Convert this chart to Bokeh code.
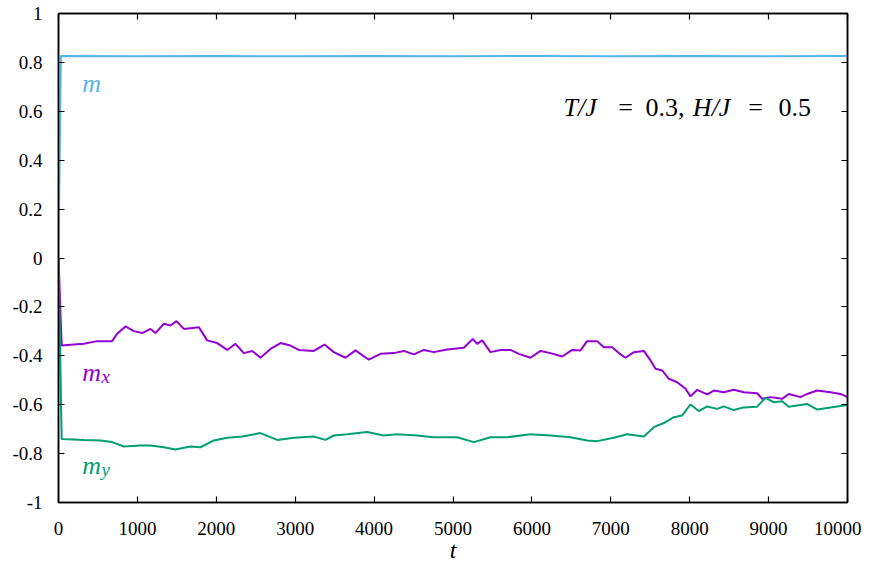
from bokeh.plotting import figure
from bokeh.models import Range1d, FixedTicker, LinearAxis
from bokeh.core.properties import value
from bokeh.embed import file_html
from bokeh.resources import INLINE

# ---- data ----
t_m = [0, 30, 1000, 2000, 3000, 4000, 5000, 6000, 7000, 8000, 9000, 10000]
m = [0.0, 0.826, 0.825, 0.826, 0.825, 0.826, 0.825, 0.826, 0.825, 0.826, 0.825, 0.826]

t_mx = [0, 40, 152, 321, 490, 680, 743, 849, 955, 1060, 1166, 1230, 1335, 1420, 1496,
        1589, 1779, 1884, 2011, 2138, 2243, 2349, 2455, 2560, 2687, 2814, 2940, 3046,
        3236, 3371, 3490, 3637, 3764, 3933, 4081, 4250, 4377, 4503, 4630, 4757, 4926,
        5137, 5251, 5306, 5370, 5475, 5602, 5729, 5834, 5982, 6109, 6236, 6384, 6511,
        6616, 6700, 6827, 6912, 7018, 7102, 7186, 7292, 7419, 7503, 7567, 7651, 7736,
        7841, 7947, 8010, 8095, 8222, 8306, 8432, 8559, 8686, 8855, 8919, 9024, 9172,
        9256, 9404, 9489, 9616, 9784, 9911, 10000]
mx = [0.0, -0.358, -0.355, -0.351, -0.340, -0.340, -0.310, -0.280, -0.299, -0.307, -0.290,
      -0.307, -0.269, -0.276, -0.258, -0.290, -0.283, -0.337, -0.348, -0.376, -0.351,
      -0.389, -0.380, -0.408, -0.372, -0.348, -0.358, -0.376, -0.380, -0.354, -0.385,
      -0.408, -0.378, -0.416, -0.392, -0.389, -0.380, -0.394, -0.376, -0.385, -0.374,
      -0.367, -0.331, -0.351, -0.337, -0.385, -0.376, -0.376, -0.392, -0.408, -0.380,
      -0.389, -0.403, -0.376, -0.378, -0.340, -0.340, -0.365, -0.365, -0.389, -0.408,
      -0.385, -0.380, -0.419, -0.453, -0.460, -0.494, -0.508, -0.535, -0.566, -0.539,
      -0.558, -0.542, -0.549, -0.539, -0.549, -0.553, -0.576, -0.569, -0.576, -0.556,
      -0.569, -0.556, -0.542, -0.549, -0.556, -0.569]

t_my = [0, 40, 321, 532, 680, 828, 1039, 1166, 1335, 1483, 1673, 1800, 1969, 2138, 2328,
        2560, 2772, 2983, 3236, 3384, 3490, 3659, 3912, 4123, 4293, 4546, 4757, 4926,
        5053, 5264, 5475, 5687, 5982, 6236, 6489, 6700, 6827, 7039, 7207, 7419, 7546,
        7672, 7799, 7905, 8010, 8115, 8222, 8348, 8432, 8559, 8686, 8855, 8960, 9066,
        9172, 9256, 9404, 9489, 9616, 9784, 10000]
my = [0.0, -0.740, -0.744, -0.746, -0.753, -0.771, -0.767, -0.767, -0.774, -0.783, -0.771,
      -0.774, -0.746, -0.735, -0.730, -0.716, -0.744, -0.735, -0.730, -0.744, -0.726,
      -0.721, -0.712, -0.726, -0.721, -0.726, -0.733, -0.733, -0.733, -0.753, -0.733,
      -0.733, -0.721, -0.726, -0.733, -0.746, -0.749, -0.735, -0.721, -0.730, -0.692,
      -0.675, -0.651, -0.644, -0.599, -0.626, -0.607, -0.617, -0.607, -0.622, -0.611,
      -0.608, -0.572, -0.590, -0.586, -0.608, -0.601, -0.597, -0.620, -0.611, -0.601]

x_ticks = [0, 1000, 2000, 3000, 4000, 5000, 6000, 7000, 8000, 9000, 10000]
y_ticks = [-1, -0.8, -0.6, -0.4, -0.2, 0, 0.2, 0.4, 0.6, 0.8, 1]
y_tick_labels = ["-1", "-0.8", "-0.6", "-0.4", "-0.2", "0", "0.2", "0.4", "0.6", "0.8", "1"]

C_M = "#56B4E9"
C_MX = "#9400D3"
C_MY = "#009E73"
FONT = "Liberation Serif"

p = figure(width=861, height=565, output_backend="svg", toolbar_location=None,
           x_range=Range1d(0, 10000), y_range=Range1d(-1, 1),
           min_border_left=58, min_border_right=14, min_border_top=13, min_border_bottom=63)
p.grid.visible = False
p.background_fill_color = "white"
p.border_fill_color = "white"
p.outline_line_color = "black"
p.outline_line_width = 1.5

for ax in (p.xaxis[0], p.yaxis[0]):
    ax.major_tick_in = 6
    ax.major_tick_out = 0
    ax.minor_tick_line_color = None
    ax.axis_line_color = "black"
    ax.axis_line_width = 1.5
    ax.major_tick_line_width = 1.2
    ax.major_label_text_font = FONT
    ax.major_label_text_font_size = "19px"
    ax.major_label_text_color = "black"

p.xaxis.ticker = FixedTicker(ticks=x_ticks)
p.yaxis.ticker = FixedTicker(ticks=y_ticks)
p.yaxis.major_label_overrides = {v: s for v, s in zip(y_ticks, y_tick_labels)}
p.xaxis.major_label_standoff = 19
p.yaxis.major_label_standoff = 16
p.xaxis.axis_label = "t"
p.xaxis.axis_label_text_font = FONT
p.xaxis.axis_label_text_font_style = "italic"
p.xaxis.axis_label_text_font_size = "24px"
p.xaxis.axis_label_text_color = "black"
p.xaxis.axis_label_text_line_height = 0.7
p.xaxis.axis_label_standoff = -1

top = LinearAxis(ticker=FixedTicker(ticks=x_ticks), major_tick_in=6, major_tick_out=0,
                 minor_tick_line_color=None, major_label_standoff=0,
                 major_label_overrides={v: "" for v in x_ticks},
                 axis_line_width=1.5, major_tick_line_width=1.2)
right = LinearAxis(ticker=FixedTicker(ticks=y_ticks), major_tick_in=6, major_tick_out=0,
                   minor_tick_line_color=None, major_label_standoff=0,
                   major_label_overrides={v: "" for v in y_ticks},
                   axis_line_width=1.5, major_tick_line_width=1.2)
p.add_layout(top, "above")
p.add_layout(right, "right")

p.line(t_m, m, line_color=C_M, line_width=2)
p.line(t_mx, mx, line_color=C_MX, line_width=2)
p.line(t_my, my, line_color=C_MY, line_width=2)

# curve labels
def txt(x, y, s, color, size, style="italic", align="left"):
    p.text(x=[x], y=[y], text=[s], text_color=color, text_font=value(FONT),
           text_font_size=size, text_font_style=style, text_align=align,
           text_baseline="alphabetic")

txt(300, 0.714, "m", C_M, "26px")
txt(300, -0.468, "m", C_MX, "26px")
txt(545, -0.485, "x", C_MX, "19px")
txt(300, -0.849, "m", C_MY, "26px")
txt(545, -0.865, "y", C_MY, "19px")

# parameter annotation
ann_y = 0.6155
txt(6400, ann_y, "T/J", "black", "26px")
txt(7186, ann_y, "=", "black", "26px", style="normal", align="center")
txt(7440, ann_y, "0.3,", "black", "26px", style="normal")
txt(8040, ann_y, "H/J", "black", "26px")
txt(8834, ann_y, "=", "black", "26px", style="normal", align="center")
txt(9125, ann_y, "0.5", "black", "26px", style="normal")

open("out.html", "w").write(file_html(p, INLINE))
